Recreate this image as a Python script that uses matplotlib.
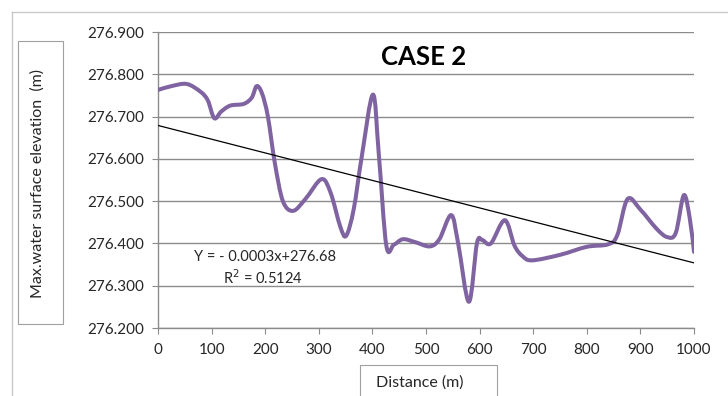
import matplotlib
matplotlib.use('Agg')
import matplotlib.pyplot as plt
from matplotlib.path import Path
from matplotlib.patches import PathPatch, Rectangle
from matplotlib.lines import Line2D
import numpy as np

plt.rcParams['font.family'] = ['Lato', 'DejaVu Sans']

# data
distance = [0, 25, 54, 80, 93, 105, 118, 135, 160, 175, 184, 194, 205, 218, 233,
            252, 275, 305, 322, 340, 351, 365, 380, 401, 412, 426, 440, 457, 480,
            507, 525, 547, 560, 580, 595, 605, 621, 647, 665, 680, 698, 750, 800,
            840, 857, 876, 900, 930, 950, 966, 981, 992, 1000]
elevation = [276.763, 276.772, 276.777, 276.758, 276.738, 276.696, 276.712, 276.726,
             276.730, 276.745, 276.772, 276.755, 276.700, 276.590, 276.500, 276.477,
             276.505, 276.552, 276.520, 276.440, 276.418, 276.480, 276.604, 276.752,
             276.610, 276.395, 276.397, 276.410, 276.403, 276.393, 276.410, 276.467,
             276.400, 276.262, 276.400, 276.408, 276.400, 276.455, 276.395, 276.370,
             276.360, 276.373, 276.392, 276.398, 276.420, 276.505, 276.480, 276.435,
             276.415, 276.425, 276.514, 276.460, 276.380]
trend_slope = -0.000325
trend_intercept = 276.679
eq_text = 'Y = - 0.0003x+276.68'
r2_text = 'R$^2$ = 0.5124'

W, H = 728, 396
fig = plt.figure(figsize=(W / 100, H / 100), dpi=100)

def fx(px):
    return px / W

def fy(py):
    return 1 - py / H

ax = fig.add_axes([fx(158), fy(328), fx(694) - fx(158), fy(32) - fy(328)])

grid_col = '#8c8c8c'
text_col = '#262626'

# smoothed line like excel (catmull-rom bezier)
pts = np.column_stack([distance, elevation])
verts = [pts[0]]
codes = [Path.MOVETO]
n = len(pts)
for i in range(n - 1):
    p0 = pts[max(i - 1, 0)]
    p1 = pts[i]
    p2 = pts[i + 1]
    p3 = pts[min(i + 2, n - 1)]
    verts += [p1 + (p2 - p0) / 6, p2 - (p3 - p1) / 6, p2]
    codes += [Path.CURVE4] * 3
ax.add_patch(PathPatch(Path(verts, codes), facecolor='none', edgecolor='#8064A2',
                       lw=2.9, capstyle='round', joinstyle='round', zorder=3))

xt = np.array([0, 1000])
ax.plot(xt, trend_intercept + trend_slope * xt, color='black', lw=0.9, zorder=4)

ax.set_xlim(0, 1000)
ax.set_ylim(276.2, 276.9)
ax.set_xticks(np.arange(0, 1001, 100))
ax.set_yticks(np.arange(276.2, 276.901, 0.1))
ax.set_yticklabels(['%.3f' % v for v in np.arange(276.2, 276.901, 0.1)])
ax.grid(axis='y', color=grid_col, lw=1)
ax.set_axisbelow(True)
for s in ['top', 'right']:
    ax.spines[s].set_visible(False)
for s in ['left', 'bottom']:
    ax.spines[s].set_color(grid_col)
    ax.spines[s].set_linewidth(1)
ax.tick_params(direction='out', length=4, color=grid_col, labelsize=11,
               labelcolor=text_col)
ax.tick_params(axis='y', pad=6)
ax.tick_params(axis='x', pad=7)

fig.text(fx(424), fy(57), 'CASE 2', ha='center', va='center', fontsize=18.5,
         fontweight='bold', color='black')
fig.text(fx(265), fy(257), eq_text, ha='center', va='center', fontsize=10.5, color=text_col)
fig.text(fx(263), fy(278), r2_text, ha='center', va='center', fontsize=10.5, color=text_col)

# chart area border
fig.add_artist(Line2D([fx(12), fx(12)], [fy(12), fy(400)], color='#c8c8c8', lw=1))
fig.add_artist(Line2D([fx(12), fx(730)], [fy(12), fy(12)], color='#c8c8c8', lw=1))

# axis title boxes
fig.add_artist(Rectangle((fx(18), fy(324)), fx(63) - fx(18), fy(41) - fy(324),
                         transform=fig.transFigure, fill=False, ec='#a0a0a0', lw=0.8))
fig.text(fx(38), fy(184), 'Max.water surface elevation  (m)', rotation=90,
         ha='center', va='center', fontsize=11.5, color=text_col)
fig.add_artist(Rectangle((fx(360), fy(400)), fx(497) - fx(360), fy(365) - fy(400),
                         transform=fig.transFigure, fill=False, ec='#a0a0a0', lw=0.8))
fig.text(fx(420), fy(383), 'Distance (m)', ha='center', va='center', fontsize=11.5,
         color=text_col)

fig.savefig('out.png', dpi=100)
